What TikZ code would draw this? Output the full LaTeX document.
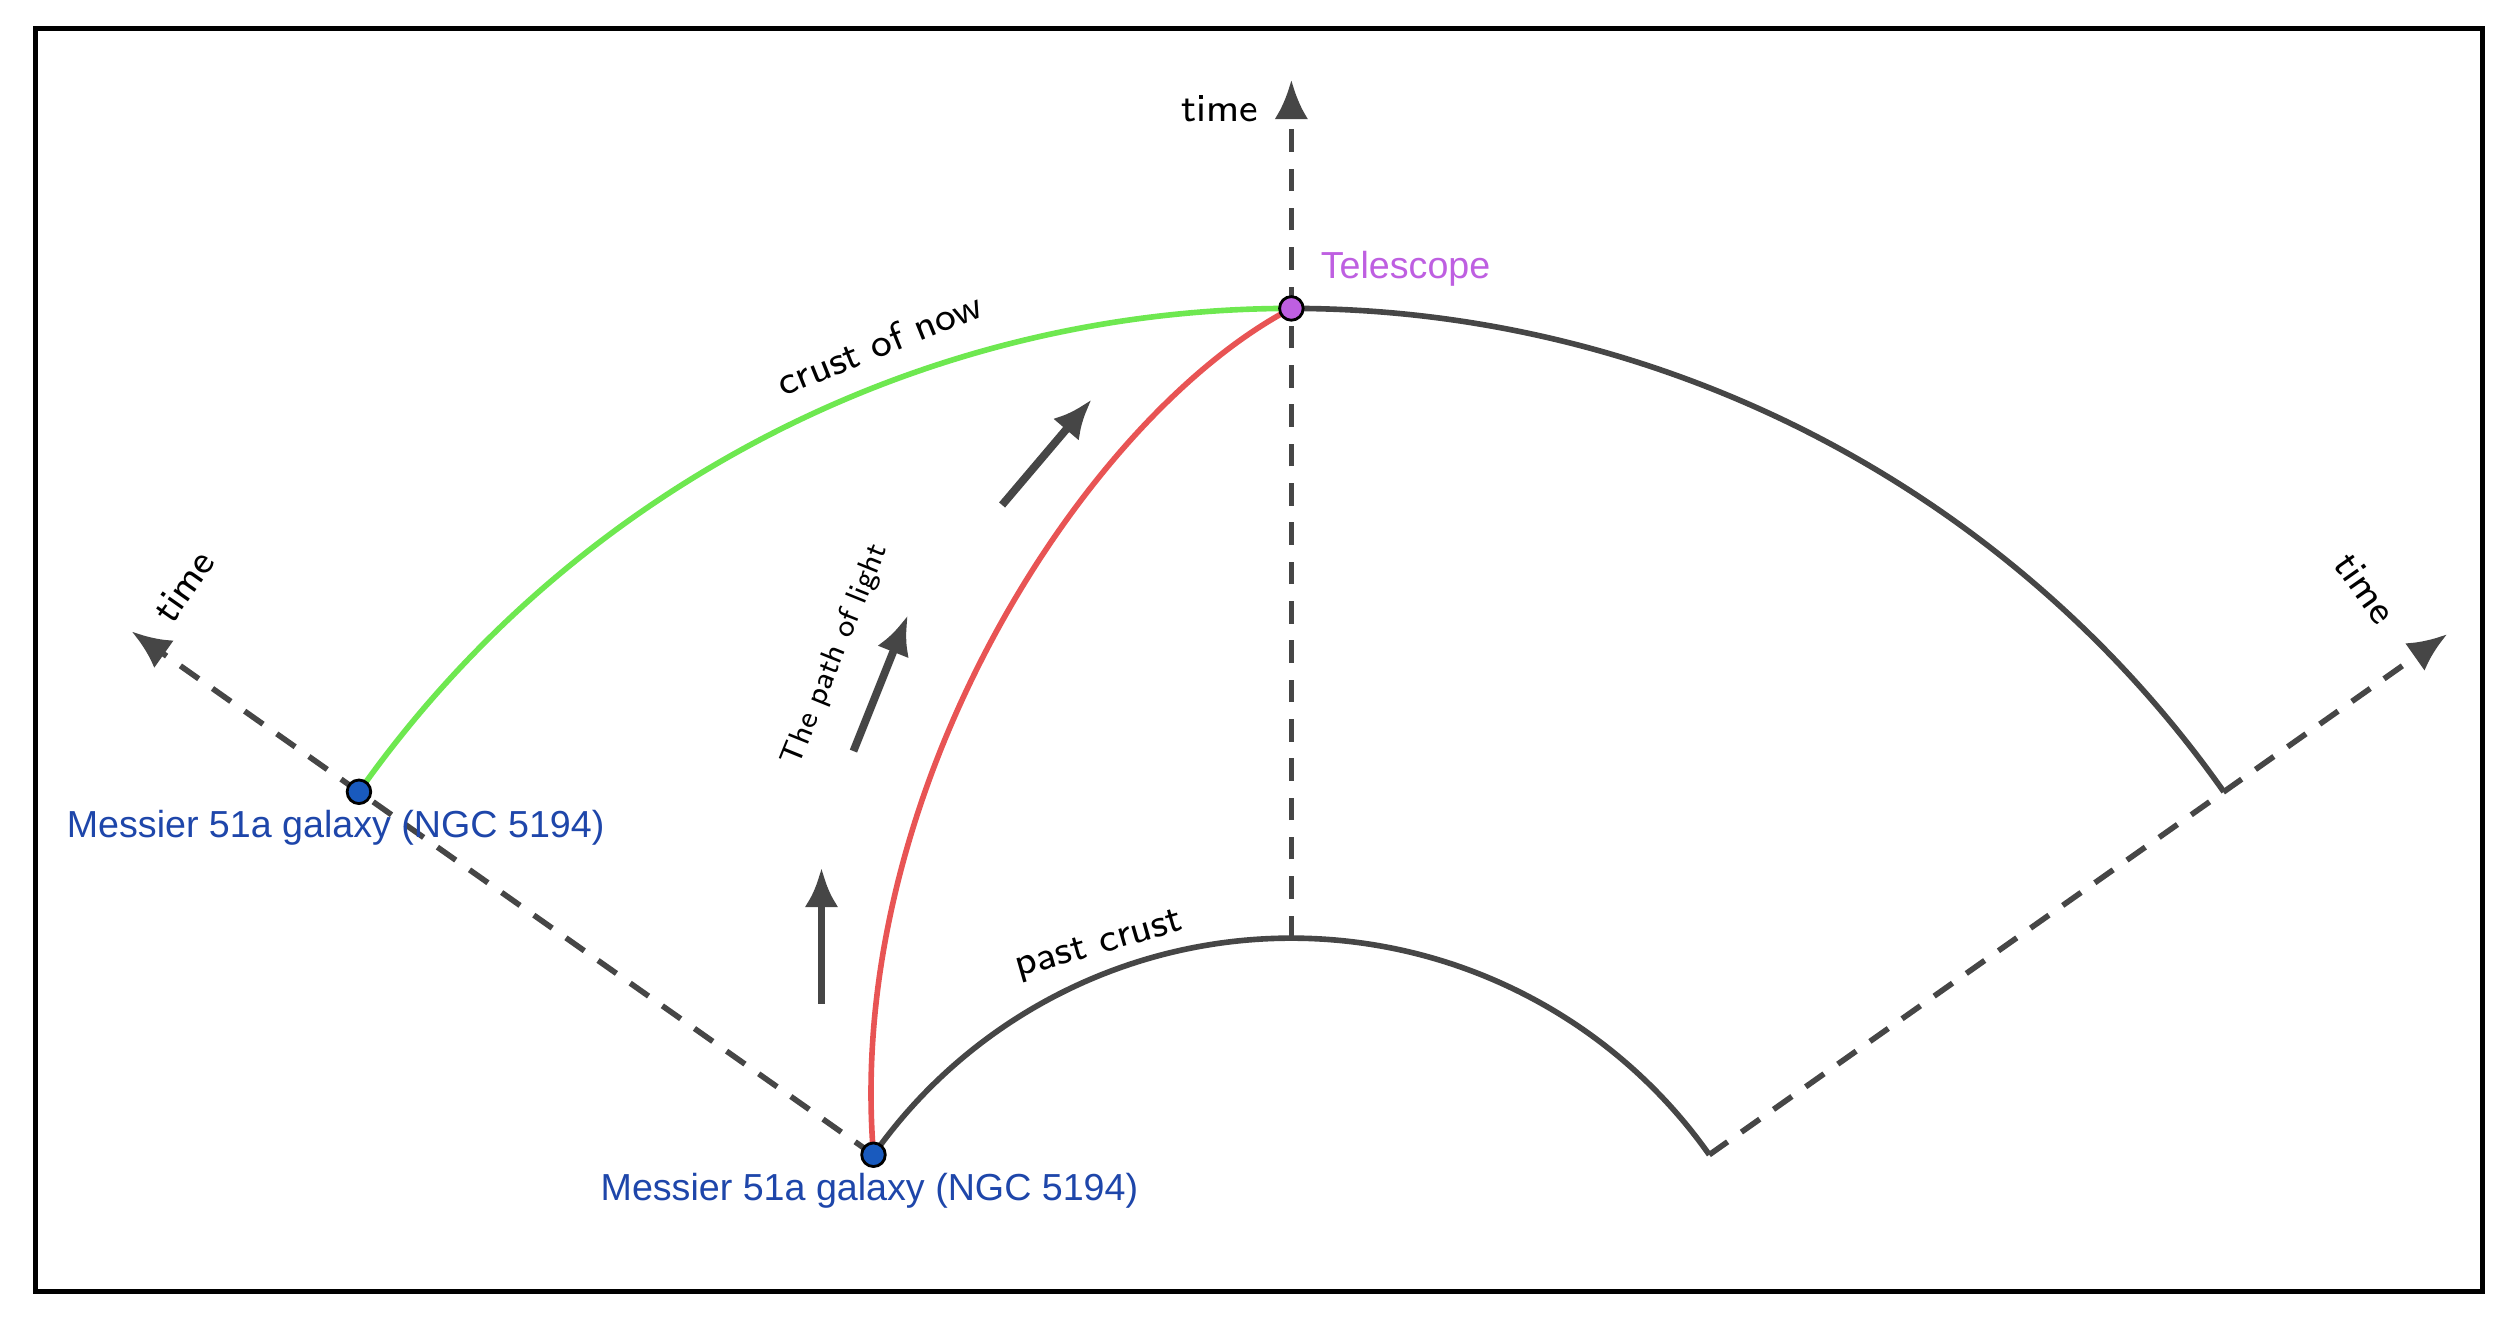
\documentclass[tikz,border=0pt]{standalone}
\usepackage{fontspec}
\newfontfamily\arialf{Liberation Sans}
\usetikzlibrary{arrows.meta}
\definecolor{dgray}{RGB}{70,70,70}
\definecolor{lgreen}{RGB}{110,232,80}
\definecolor{lred}{RGB}{232,84,84}
\definecolor{gblue}{RGB}{30,70,170}
\definecolor{gpurple}{RGB}{190,95,225}
\definecolor{dotblue}{RGB}{25,90,190}
\tikzset{
 crust/.style={dgray,line width=1pt},
 axis/.style={dgray,line width=1pt,dashed,dash pattern=on 4pt off 3pt,-{Latex[length=7pt,width=6pt]}},
 dirarrow/.style={dgray,line width=1.4pt,-{Latex[length=7pt,width=6pt]}},
 lbl/.style={font=\sffamily\fontsize{7}{8}\selectfont},
 glbl/.style={font=\arialf\fontsize{6.7}{7.5}\selectfont,text=gblue},
 dotst/.style={circle,draw=black,line width=0.5pt,inner sep=0pt,minimum size=4.2pt}
}
\begin{document}
\begin{tikzpicture}
\useasboundingbox (0,0) rectangle (15.68,8.24);
\draw[line width=0.9pt] (0.22,0.16) rectangle (15.53,8.06);
\coordinate (C) at (8.08,-0.83);
\coordinate (g2) at ([shift={(144.8:3.2)}]C);
\coordinate (g1) at ([shift={(144.8:7.14)}]C);
\coordinate (pc) at ([shift={(90:3.2)}]C);
\coordinate (tel) at ([shift={(90:7.14)}]C);
\coordinate (re) at ([shift={(35.2:3.2)}]C);
\coordinate (ro) at ([shift={(35.2:7.14)}]C);
\coordinate (lt) at ([shift={(144.8:8.88)}]C);
\coordinate (rt) at ([shift={(35.2:8.85)}]C);
\coordinate (vt) at (8.08,7.74);
% axes
\draw[axis] (g2) -- (lt);
\draw[axis] (re) -- (rt);
\draw[axis] (pc) -- (vt);
% crusts
\draw[crust] (g2) arc[start angle=144.8,end angle=35.2,radius=3.2cm];
\draw[crust] (tel) arc[start angle=90,end angle=35.2,radius=7.14cm];
\draw[lgreen,line width=1pt] (tel) arc[start angle=90,end angle=144.8,radius=7.14cm];
\draw[lred,line width=1pt] (g2) .. controls (5.28,3.3) and (6.8,5.64) .. (tel);
% direction arrows
\coordinate (a1s) at (5.14,1.96); \coordinate (a1e) at (5.14,2.81);
\coordinate (a2s) at (5.34,3.54); \coordinate (a2e) at (5.68,4.39);
\coordinate (a3s) at (6.27,5.08); \coordinate (a3e) at (6.83,5.74);
\draw[dirarrow] (a1s) -- (a1e);
\draw[dirarrow] (a2s) -- (a2e);
\draw[dirarrow] (a3s) -- (a3e);
% dots
\node[dotst,fill=dotblue] (G2) at (g2) {};
\node[dotst,fill=dotblue] (G1) at (g1) {};
\node[dotst,fill=gpurple] (T) at (tel) {};
% labels
\node[lbl] (tv) at (7.63,7.56) {time};
\node[lbl,rotate=55] (tl) at (1.15,4.57) {time};
\node[lbl,rotate=-55] (tr) at (14.8,4.56) {time};
\node[lbl,rotate=22] (cn) at (5.5,6.09) {crust of now};
\node[lbl,rotate=16] (pcl) at (6.88,2.32) {past crust};
\node[lbl,rotate=68,font=\sffamily\fontsize{5.5}{6}\selectfont] (pl) at (5.23,4.14) {The path of light};
\node[glbl,text=gpurple,anchor=west] (tl2) at (8.14,6.56) {Telescope};
\node[glbl] (l1) at (2.1,3.06) {Messier 51a galaxy (NGC 5194)};
\node[glbl] (l2) at (5.44,0.79) {Messier 51a galaxy (NGC 5194)};
\end{tikzpicture}
\end{document}
